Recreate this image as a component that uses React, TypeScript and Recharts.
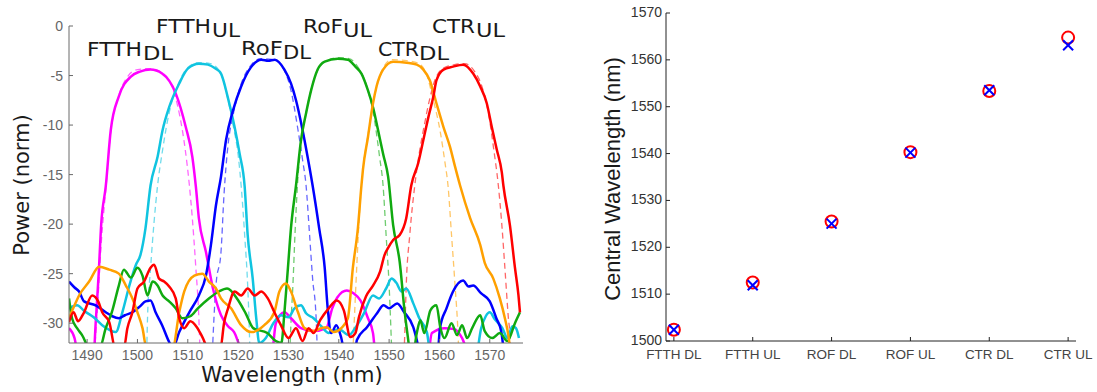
import { Line, LineChart, Scatter, ScatterChart, XAxis, YAxis } from "recharts";

// left panel: filter spectra, [wavelength nm, power dB]
const wavelengthTicks = [1490, 1500, 1510, 1520, 1530, 1540, 1550, 1560, 1570];
const powerTicks = [0, -5, -10, -15, -20, -25, -30];

const ftthDlMeasured: [number, number][] = [
  [1486.4, -30.5], [1487.5, -31.5], [1488.5, -34], [1491.2, -34], [1491.7, -30], [1492.3, -25],
  [1492.8, -20], [1493.7, -16.2], [1494.7, -10.5], [1496.3, -7.1], [1498.7, -5.1], [1500.5, -4.6],
  [1502.6, -4.4], [1504.9, -4.8], [1507.6, -6.8], [1509.6, -10.2], [1510.9, -13.2], [1511.6, -16.2],
  [1512.2, -19.4], [1513.6, -22.8], [1515, -26.5], [1516.6, -29.2], [1518, -30.3], [1519.2, -30.9],
  [1520.6, -32.5], [1526.5, -34], [1527.5, -30], [1529.2, -28.9], [1530.5, -29.5], [1532.5, -30.5],
  [1535, -30.8], [1537.5, -30.5], [1538.7, -28.5], [1539.7, -27.4], [1541.6, -26.7], [1543, -27],
  [1544.3, -27.7], [1545.8, -29.5], [1546.8, -31], [1547.5, -34], [1557.5, -34], [1558.5, -31],
  [1561, -30.5], [1563, -30.6], [1564.5, -31.5], [1566.5, -34], [1576, -34],
];
const ftthDlDesign: [number, number][] = [
  [1491.3, -34], [1492, -29], [1492.8, -22], [1493.8, -16], [1494.7, -10.7], [1496.2, -7.2],
  [1498.2, -5.0], [1500, -4.4], [1502.5, -4.3], [1504.8, -4.7], [1507, -6.3], [1508.3, -8.8],
  [1509.5, -12.5], [1510.3, -16], [1510.9, -19.4], [1511.6, -24.4], [1512.2, -29.5], [1512.5, -34],
];

const ftthUlMeasured: [number, number][] = [
  [1486.4, -28.5], [1488, -28.2], [1489.5, -28.8], [1491.3, -29.4], [1493, -30.2], [1494.5, -30.7],
  [1495.7, -30.9], [1497, -28.9], [1498.5, -26], [1499.7, -24.1], [1500.6, -23.1], [1501.6, -20.4],
  [1502.6, -16.1], [1504, -13.2], [1505, -10.5], [1506.3, -8.2], [1508.3, -5.8], [1510, -4.3],
  [1512.2, -3.8], [1514, -3.9], [1515.5, -4.3], [1516.6, -4.8], [1517.9, -7.1], [1519.3, -10.2],
  [1520.3, -12.9], [1521.3, -16.2], [1521.9, -21.1], [1522.9, -25.5], [1523.6, -29.5], [1524.2, -32],
  [1525.5, -31.5], [1527, -30], [1528.5, -29.2], [1530, -29.4], [1531.2, -28.5], [1532.5, -28.2],
  [1533.5, -29], [1535, -29.5], [1536.5, -30.3], [1538, -31], [1540, -30.6], [1542, -31.2],
  [1543.5, -30.3], [1545, -29], [1546.8, -27.2], [1548, -27.5], [1549.4, -26.5], [1550.5, -25.5],
  [1551.4, -25.9], [1552.5, -26.8], [1553.4, -26.5], [1554.8, -28], [1556, -29.5], [1557.5, -30.9],
  [1558.5, -34], [1567, -34], [1568.3, -30.5], [1569.2, -29.3], [1570, -28.9], [1571, -29.6],
  [1572.5, -30.5], [1573.5, -31.5], [1574.5, -30.3], [1575.2, -30.5], [1575.8, -31.5],
];
const ftthUlDesign: [number, number][] = [
  [1501.8, -34], [1502, -29.5], [1502.6, -24.5], [1503.3, -19.8], [1504, -16.1], [1505, -12.5],
  [1506.2, -9], [1508, -6], [1510, -4.2], [1512.2, -3.7], [1514.5, -3.8], [1516.5, -4.7],
  [1517.8, -7], [1519, -10], [1520, -13], [1520.6, -16.1], [1521.3, -21.1], [1521.9, -26.2],
  [1522.2, -30.2], [1522.4, -34],
];

const rofDlMeasured: [number, number][] = [
  [1486.4, -25.8], [1487.5, -26.4], [1488.4, -26.8], [1489.4, -27.8], [1491.7, -28.2], [1493.7, -28.9],
  [1495, -29.3], [1496.3, -29.5], [1497.5, -29.2], [1499, -28.9], [1500.5, -28.3], [1501.6, -27.8],
  [1502.6, -27.7], [1503.6, -28.9], [1504.9, -30.2], [1506.3, -31.9], [1507, -32.5], [1508.3, -30.9],
  [1510.3, -28.9], [1512.2, -27.2], [1513.6, -25.2], [1514.6, -22.1], [1515.6, -18.1], [1516.6, -15.2],
  [1517.6, -11.5], [1519, -8.5], [1520.6, -6.1], [1522.5, -4.2], [1524.6, -3.4], [1526, -3.5],
  [1527.3, -3.4], [1529.2, -4.4], [1530.5, -5.8], [1531.5, -7.5], [1532.8, -10.5], [1533.8, -13.2],
  [1534.8, -16.1], [1536.1, -20.4], [1537.2, -24.4], [1537.8, -28.5], [1538.5, -31], [1539.5, -30.2],
  [1540.5, -31.5], [1541.5, -34], [1543, -34], [1543.6, -31.7], [1545.6, -30.4], [1547.6, -29],
  [1548.9, -28.2], [1550, -28.5], [1551.6, -28], [1553, -28.9], [1554.8, -30.4], [1555.5, -31.7],
  [1556.5, -34], [1559.5, -34], [1560.1, -30.5], [1561.4, -28.5], [1562.7, -26.8], [1564.7, -25.7],
  [1565.8, -26.3], [1566.7, -26.2], [1568.3, -27], [1570, -27.8], [1571.3, -29.5], [1572.3, -30.9],
  [1573, -34],
];
const rofDlDesign: [number, number][] = [
  [1514.8, -34], [1515.2, -29.5], [1515.6, -26.2], [1516.6, -22.8], [1517.2, -17], [1518, -12],
  [1519, -9], [1520.5, -6], [1522.5, -4], [1524.5, -3.3], [1527, -3.4], [1529, -4.3],
  [1530.5, -6.5], [1531.9, -10.5], [1532.8, -13.5], [1533.5, -16.1], [1534.2, -21.1], [1534.8, -25.5],
  [1535.5, -29.5], [1535.8, -34],
];

const rofUlMeasured: [number, number][] = [
  [1486.4, -27.5], [1487, -29.5], [1488, -30.5], [1489, -31.2], [1490.5, -32.5], [1492.5, -32.5],
  [1493.7, -30.5], [1494.9, -28.9], [1496.3, -26.2], [1497.3, -24.6], [1498.7, -25.4], [1500, -24.4],
  [1501, -25.2], [1502, -27.2], [1503, -25.8], [1504, -26.2], [1505, -27.2], [1506.3, -27.8],
  [1507.6, -28.5], [1508.9, -29.5], [1510.5, -29.3], [1512, -28.5], [1514.2, -27.5], [1516.2, -26.8],
  [1517.8, -26.5], [1519.9, -27.6], [1521.5, -29], [1523, -30.5], [1525.8, -31], [1527.5, -31.8],
  [1528.6, -32], [1529.2, -28.9], [1529.9, -24.4], [1530.5, -20.4], [1531.5, -16.1], [1532.5, -11.5],
  [1533.5, -8.8], [1534.5, -6.5], [1535.8, -4.4], [1537.2, -3.6], [1539.8, -3.3], [1541.8, -3.4],
  [1543.3, -4.1], [1544.5, -4.8], [1545.8, -6.5], [1546.8, -8.2], [1547.8, -10.5], [1548.8, -12.9],
  [1549.8, -15.2], [1550.8, -20.1], [1552.1, -23.8], [1553.1, -28.9], [1553.7, -31.3], [1554.5, -34],
  [1555.5, -31], [1556.2, -29.7], [1557, -31], [1558.2, -28.7], [1559.4, -28.2], [1560.2, -30.5],
  [1561, -31.5], [1562.4, -30], [1563.5, -31.2], [1564.5, -30.2], [1565.5, -31.5], [1566.5, -30.5],
  [1568.1, -29.2], [1569, -30.8], [1570.5, -31.5], [1572, -31], [1573.5, -31.8], [1575, -30],
  [1576, -28.9],
];
const rofUlDesign: [number, number][] = [
  [1530.2, -34], [1530.5, -30], [1530.9, -26], [1531.3, -21], [1531.8, -16], [1532.6, -11.5],
  [1533.6, -8.5], [1535, -5.5], [1537, -3.7], [1540, -3.2], [1542, -3.3], [1544, -4.3],
  [1545.5, -6], [1547.1, -9.5], [1548.1, -13.2], [1548.8, -16.1], [1549.4, -21.1], [1550, -26.2],
  [1550.4, -31.2], [1550.6, -34],
];

const ctrDlMeasured: [number, number][] = [
  [1486.4, -29.5], [1487.5, -28.2], [1488.4, -27.2], [1490.4, -25.8], [1492.4, -24.3], [1494.4, -24.6],
  [1496.3, -25], [1497.7, -26.2], [1499, -27.5], [1500, -28.9], [1501, -30.5], [1501.8, -32.5],
  [1507, -32.5], [1508.3, -28.9], [1509.3, -26.8], [1511.3, -25.2], [1512.9, -25], [1514.2, -25.8],
  [1515.6, -26.5], [1516.6, -27.5], [1518.6, -28.5], [1520.6, -30.2], [1522.6, -30.9], [1525.2, -30.2],
  [1527.2, -28.9], [1528.2, -26.8], [1529.5, -26], [1530.5, -26.8], [1531.9, -28.9], [1533.2, -30.5],
  [1535, -30.8], [1536.5, -30.5], [1537.6, -30.4], [1539, -30.9], [1540.5, -30.5], [1541.8, -29.5],
  [1542.8, -24.4], [1543.8, -20.4], [1544.5, -16.1], [1544.8, -14.5], [1545.8, -11.2], [1546.8, -7.8],
  [1547.5, -6.1], [1548.8, -4.4], [1550.8, -3.6], [1553.5, -3.7], [1555.5, -3.9], [1556.8, -4.4],
  [1558.1, -5.5], [1559.4, -7.8], [1560.8, -10.2], [1562.1, -12.2], [1563.1, -14.2], [1564.1, -16.1],
  [1566.1, -19.4], [1568.1, -22.1], [1569, -23.9], [1570.7, -25.5], [1572, -27.5], [1573, -29.5],
  [1573.8, -31.6], [1574.3, -34],
];
const ctrDlDesign: [number, number][] = [
  [1542.7, -34], [1543.1, -29.5], [1543.6, -24], [1544.1, -19], [1544.8, -14.5], [1545.8, -11],
  [1546.8, -7.8], [1548.5, -4.6], [1550.5, -3.4], [1553.5, -3.5], [1556, -3.8], [1557.5, -5],
  [1558.8, -7.5], [1560.1, -10.5], [1561.1, -13.8], [1561.7, -16.1], [1562.4, -21.1], [1563.1, -26.2],
  [1563.7, -31.2], [1563.9, -34],
];

const ctrUlMeasured: [number, number][] = [
  [1486.4, -29.9], [1487.3, -28.9], [1488.2, -29.8], [1489.3, -29], [1491, -27.2], [1492.2, -27.8],
  [1493, -28.9], [1494.4, -29.9], [1495.6, -32.5], [1497.3, -32.5], [1498, -30.5], [1499, -28.9],
  [1500, -26.5], [1501.3, -25.8], [1502.6, -24.4], [1503.3, -24.1], [1504.3, -25.5], [1505.3, -25.8],
  [1506.3, -26.3], [1507.6, -27.5], [1508.3, -29.5], [1509.3, -30.5], [1510.5, -29.8], [1511.8, -30.4],
  [1513, -31.5], [1514, -32.5], [1516.5, -32.5], [1517.2, -30], [1518, -28.5], [1519.3, -26.8],
  [1520.6, -27.2], [1521.9, -26.5], [1523.3, -27.2], [1524.6, -26.8], [1525.9, -27.5], [1527.2, -28.9],
  [1528.5, -30.2], [1530, -31.5], [1531.5, -30.5], [1532.8, -31.8], [1534, -30.5], [1535, -31],
  [1536.3, -29.7], [1538, -28.5], [1539.6, -27.7], [1541, -28.7], [1542.3, -31.4], [1543.3, -31],
  [1544, -29.4], [1545.4, -27.3], [1546.8, -26.2], [1548.2, -24.8], [1549.1, -23.1], [1549.8, -22.4],
  [1550.8, -21.6], [1552.1, -21.1], [1553.4, -19.4], [1554.4, -16.1], [1555.8, -13.8], [1556.8, -11.5],
  [1557.8, -9.2], [1558.8, -7.1], [1559.4, -5.5], [1560.8, -4.4], [1562.7, -4.1], [1564.7, -3.9],
  [1566.7, -4.8], [1568.1, -6.1], [1569.4, -7.8], [1570.4, -10.2], [1571.4, -12.5], [1572.4, -14.8],
  [1572.7, -16.1], [1574, -20.1], [1575, -24.4], [1575.7, -27.2], [1576, -28.9],
];
const ctrUlDesign: [number, number][] = [
  [1552.9, -34], [1553.1, -31.2], [1553.4, -26.2], [1554.1, -21.1], [1555.1, -16.1], [1556, -12.8],
  [1557, -10], [1558, -7.5], [1559.3, -5.2], [1561, -4.2], [1563, -3.9], [1565, -3.8],
  [1567, -4.6], [1568.5, -6.2], [1569.8, -9], [1570.8, -12.5], [1571.7, -16.1], [1572.4, -20.1],
  [1573, -24.4], [1573.7, -29.5], [1574, -31.2], [1574.2, -34],
];

// right panel: central wavelength per channel
const channels = ["FTTH DL", "FTTH UL", "ROF DL", "ROF UL", "CTR DL", "CTR UL"];
const measuredCenter = [1502.4, 1512.5, 1525.5, 1540.3, 1553.35, 1564.75];
const designCenter = [1502.4, 1511.9, 1525.05, 1540.2, 1553.5, 1563.1];
const centerTicks = [1500, 1510, 1520, 1530, 1540, 1550, 1560, 1570];

const SPECTRA = [
  { name: "FTTH DL", color: "#ff00ff", measured: ftthDlMeasured, design: ftthDlDesign },
  { name: "FTTH UL", color: "#10c4e0", measured: ftthUlMeasured, design: ftthUlDesign },
  { name: "RoF DL", color: "#0000ff", measured: rofDlMeasured, design: rofDlDesign },
  { name: "RoF UL", color: "#10aa10", measured: rofUlMeasured, design: rofUlDesign },
  { name: "CTR DL", color: "#ffa000", measured: ctrDlMeasured, design: ctrDlDesign },
  { name: "CTR UL", color: "#ff0000", measured: ctrUlMeasured, design: ctrUlDesign },
];

const toPoints = (pts: [number, number][]) => pts.map(([x, y]) => ({ x, y }));

// channel labels above the peaks: main text + subscript
const PEAK_LABELS = [
  { main: "FTTH", sub: "DL", x: 87, w: 55, y: 56, sx: 143, sw: 30, sy: 60 },
  { main: "FTTH", sub: "UL", x: 156, w: 55, y: 33, sx: 212, sw: 28, sy: 37 },
  { main: "RoF", sub: "DL", x: 241, w: 42, y: 55, sx: 283, sw: 28, sy: 59 },
  { main: "RoF", sub: "UL", x: 303, w: 40, y: 33, sx: 343, sw: 29, sy: 37 },
  { main: "CTR", sub: "DL", x: 378, w: 41, y: 56, sx: 419, sw: 30, sy: 60 },
  { main: "CTR", sub: "UL", x: 432, w: 43, y: 33, sx: 476, sw: 29, sy: 37 },
];

const TICK_FONT = "'Liberation Sans', Arial, sans-serif";
const TITLE_FONT = "'DejaVu Sans', Verdana, sans-serif";
const LEFT_AXIS = "#6a6a6a";
const RIGHT_AXIS = "#222";

function PowerTick({ x, y, payload }: any) {
  return (
    <g>
      <line x1={x + 6} x2={x + 10} y1={y} y2={y} stroke={LEFT_AXIS} />
      <text x={x} y={y + 5} textAnchor="end" fontSize={14} fill="#666" fontFamily={TICK_FONT}>
        {payload.value}
      </text>
    </g>
  );
}

function WavelengthTick({ x, y, payload }: any) {
  return (
    <g>
      <line x1={x} x2={x} y1={y - 6} y2={y - 10} stroke={LEFT_AXIS} />
      <text x={x} y={y + 11} textAnchor="middle" fontSize={14} fill="#666" fontFamily={TICK_FONT}>
        {payload.value}
      </text>
    </g>
  );
}

function CenterTick({ x, y, payload }: any) {
  return (
    <g>
      <line x1={x + 4} x2={x + 8} y1={y} y2={y} stroke={RIGHT_AXIS} />
      <text x={x} y={y + 4} textAnchor="end" fontSize={14} fill="#333" fontFamily={TICK_FONT}>
        {payload.value}
      </text>
    </g>
  );
}

function ChannelTick({ x, y, payload }: any) {
  return (
    <g>
      <line x1={x} x2={x} y1={y - 6} y2={y - 10} stroke={RIGHT_AXIS} />
      <text x={x} y={y + 12} textAnchor="middle" fontSize={13.5} fill="#444" fontFamily={TICK_FONT}>
        {channels[payload.value - 1]}
      </text>
    </g>
  );
}

function RingMark({ cx, cy }: any) {
  return <circle cx={cx} cy={cy} r={6} fill="none" stroke="#ff0000" strokeWidth={2} />;
}

function CrossMark({ cx, cy }: any) {
  const s = 5;
  return (
    <g stroke="#0000ff" strokeWidth={2}>
      <line x1={cx - s} y1={cy - s} x2={cx + s} y2={cy + s} />
      <line x1={cx - s} y1={cy + s} x2={cx + s} y2={cy - s} />
    </g>
  );
}

function SpectraChart() {
  return (
    <LineChart width={540} height={392} margin={{ top: 26, right: 17, bottom: 0, left: 0 }}>
      <XAxis
        type="number"
        dataKey="x"
        domain={[1486.4, 1576.6]}
        allowDataOverflow
        ticks={wavelengthTicks}
        height={49}
        stroke={LEFT_AXIS}
        tickLine={false}
        tickSize={0}
        tickMargin={6}
        tick={<WavelengthTick />}
      />
      <YAxis
        type="number"
        dataKey="y"
        domain={[-32, 0]}
        allowDataOverflow
        ticks={powerTicks}
        width={69}
        stroke={LEFT_AXIS}
        tickLine={false}
        tickSize={0}
        tickMargin={6}
        tick={<PowerTick />}
      />
      {SPECTRA.map((s) => (
        <Line
          key={s.name + "-design"}
          data={toPoints(s.design)}
          dataKey="y"
          type="monotone"
          stroke={s.color}
          strokeOpacity={0.6}
          strokeWidth={1.3}
          strokeDasharray="6 4"
          dot={false}
          activeDot={false}
          isAnimationActive={false}
        />
      ))}
      {SPECTRA.map((s) => (
        <Line
          key={s.name + "-measured"}
          data={toPoints(s.measured)}
          dataKey="y"
          type="monotone"
          stroke={s.color}
          strokeWidth={2.5}
          dot={false}
          activeDot={false}
          isAnimationActive={false}
        />
      ))}
    </LineChart>
  );
}

function CenterChart() {
  const measured = channels.map((c, i) => ({ x: i + 1, y: measuredCenter[i] }));
  const design = channels.map((c, i) => ({ x: i + 1, y: designCenter[i] }));
  return (
    <ScatterChart width={537} height={392} margin={{ top: 13, right: 21, bottom: 0, left: 0 }}>
      <XAxis
        type="number"
        dataKey="x"
        domain={[0.9, 6.1]}
        ticks={[1, 2, 3, 4, 5, 6]}
        height={51}
        stroke={RIGHT_AXIS}
        tickLine={false}
        tickSize={0}
        tickMargin={6}
        tick={<ChannelTick />}
      />
      <YAxis
        type="number"
        dataKey="y"
        domain={[1500, 1570]}
        ticks={centerTicks}
        width={106}
        stroke={RIGHT_AXIS}
        tickLine={false}
        tickSize={0}
        tickMargin={4}
        tick={<CenterTick />}
      />
      <Scatter data={measured} shape={<RingMark />} isAnimationActive={false} />
      <Scatter data={design} shape={<CrossMark />} isAnimationActive={false} />
    </ScatterChart>
  );
}

export default function App() {
  return (
    <div style={{ position: "absolute", left: 0, top: 0, width: 1097, height: 392, background: "#fff" }}>
      <div style={{ position: "absolute", left: 0, top: 0 }}>
        <SpectraChart />
      </div>
      <div style={{ position: "absolute", left: 560, top: 0 }}>
        <CenterChart />
      </div>
      <svg width={1097} height={392} style={{ position: "absolute", left: 0, top: 0, pointerEvents: "none" }}>
        <g fontFamily={TITLE_FONT} fontSize={19} fill="#1a1a1a">
          {PEAK_LABELS.map((l) => (
            <g key={l.main + l.sub}>
              <text x={l.x} y={l.y} textLength={l.w} lengthAdjust="spacingAndGlyphs">{l.main}</text>
              <text x={l.sx} y={l.sy} textLength={l.sw} lengthAdjust="spacingAndGlyphs">{l.sub}</text>
            </g>
          ))}
        </g>
        <text x={292} y={382} textAnchor="middle" fontFamily={TITLE_FONT} fontSize={21} fill="#1a1a1a">
          Wavelength (nm)
        </text>
        <text
          transform="translate(29,185) rotate(-90)"
          textAnchor="middle"
          fontFamily={TITLE_FONT}
          fontSize={21}
          fill="#1a1a1a"
        >
          Power (norm)
        </text>
        <text
          transform="translate(620,179) rotate(-90)"
          textAnchor="middle"
          fontFamily={TICK_FONT}
          fontSize={22}
          fill="#1a1a1a"
        >
          Central Wavelength (nm)
        </text>
      </svg>
    </div>
  );
}
